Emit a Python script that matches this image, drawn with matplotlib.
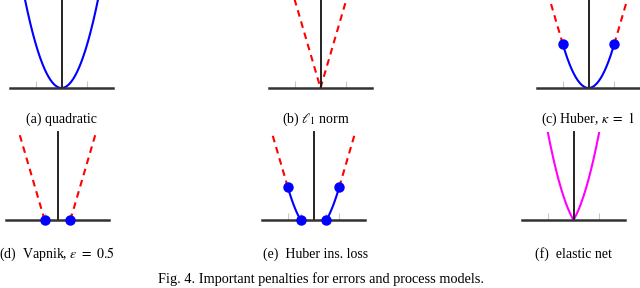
import numpy as np
import matplotlib
matplotlib.use("Agg")
import matplotlib.pyplot as plt

plt.rcParams['font.family'] = ['Liberation Serif', 'DejaVu Serif']
plt.rcParams['mathtext.fontset'] = 'stix'

# panel captions and settings
labels = ['(a) quadratic', r'(b) $\ell_1$ norm', r'(c) Huber, $\kappa\ =\ 1$',
          r'(d)  Vapnik, $\varepsilon\ =\ 0.5$', '(e)  Huber ins. loss', '(f)  elastic net']
caption = 'Fig. 4. Important penalties for errors and process models.'
kappa = 1.0
eps = 0.5
ticks_a = [-1, 1]
ticks_d = [-0.5, 0.5]
ticks_e = [-1, -0.5, 0.5, 1]

# panel placement in pixels: left, top of axes box, label centre x, label y
W, H = 640, 288
panel_px = [(10, 0, 61, 119), (269, 0, 316, 119), (537, 0, 588, 119),
            (6, 132, 57, 254), (262, 132, 316, 254), (522, 132, 573, 254)]
AX_W, AX_H = 103, 88

BLUE = '#0000ff'
RED = '#ff0000'
MAG = '#ff00ff'

fig = plt.figure(figsize=(W / 100, H / 100), dpi=100)


def make_axes(left, top, ticks):
    ax = fig.add_axes([left / W, 1 - (top + AX_H) / H, AX_W / W, AX_H / H])
    ax.set_xlim(-2, 2)
    ax.set_ylim(0, 2)
    ax.patch.set_visible(False)
    for s in ['top', 'right']:
        ax.spines[s].set_visible(False)
    ax.spines['left'].set_position(('data', 0))
    ax.spines['left'].set_color('#111111')
    ax.spines['left'].set_linewidth(1.3)
    ax.spines['bottom'].set_color('#333333')
    ax.spines['bottom'].set_linewidth(1.8)
    ax.set_xticks(ticks)
    ax.set_xticklabels([])
    ax.set_yticks([])
    ax.tick_params(axis='x', direction='in', length=5, width=0.8, color='#c8c8c8')
    return ax


def solid(ax, x, y, c=BLUE):
    ax.plot(x, y, color=c, lw=1.5, solid_capstyle='butt')


def dashed(ax, x, y):
    ax.plot(x, y, color=RED, lw=1.5, dashes=(3.2, 2.4))


def dots(ax, x, y):
    ax.plot(x, y, 'o', color=BLUE, ms=6.5, clip_on=False, zorder=5)


axes = []
for i, (l, t, cx, ly) in enumerate(panel_px):
    tk = ticks_a
    if i == 3:
        tk = ticks_d
    if i == 4:
        tk = ticks_e
    axes.append(make_axes(l, t, tk))

# (a) quadratic
x = np.linspace(-2, 2, 401)
solid(axes[0], x, x ** 2)

# (b) l1 norm
dashed(axes[1], x[x <= 0], 2 * np.abs(x[x <= 0]))
dashed(axes[1], x[x >= 0], 2 * np.abs(x[x >= 0]))

# (c) Huber
xi = np.linspace(-kappa, kappa, 201)
solid(axes[2], xi, xi ** 2)
xo = np.linspace(kappa, 2, 101)
dashed(axes[2], xo, 2 * kappa * xo - kappa ** 2)
dashed(axes[2], -xo, 2 * kappa * xo - kappa ** 2)
dots(axes[2], [-kappa, kappa], [kappa ** 2, kappa ** 2])

# (d) Vapnik
xo = np.linspace(eps, 2, 101)
dashed(axes[3], xo, 2 * (xo - eps))
dashed(axes[3], -xo, 2 * (xo - eps))
dots(axes[3], [-eps, eps], [0, 0])

# (e) Huber insensitive
xm = np.linspace(eps, 1, 101)
ym = (xm - eps) ** 2 + (xm - eps)
solid(axes[4], xm, ym)
solid(axes[4], -xm, ym)
y1 = ym[-1]
xo = np.linspace(1, 2, 101)
dashed(axes[4], xo, y1 + 2 * (xo - 1))
dashed(axes[4], -xo, y1 + 2 * (xo - 1))
dots(axes[4], [-1, -eps, eps, 1], [y1, 0, 0, y1])

# (f) elastic net
solid(axes[5], x, x ** 2 + np.abs(x), c=MAG)

for (l, t, cx, ly), lab in zip(panel_px, labels):
    fig.text(cx / W, 1 - ly / H, lab, ha='center', va='center', fontsize=10)

fig.text(321 / W, 1 - 279 / H, caption, ha='center', va='center', fontsize=10.3)

fig.savefig('out.png', dpi=100)
